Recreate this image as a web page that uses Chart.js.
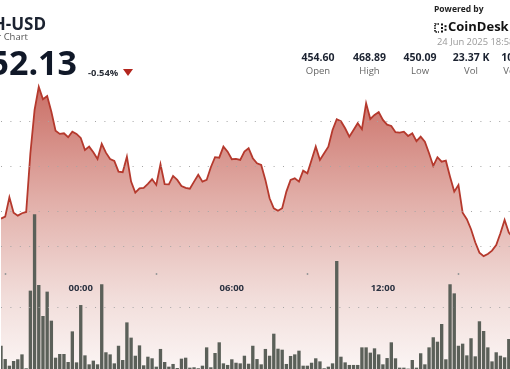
<!DOCTYPE html>
<html>
<head>
<meta charset="utf-8">
<script src="https://cdn.jsdelivr.net/npm/chart.js@4.4.1/dist/chart.umd.min.js"></script>
<style>
html, body { margin: 0; padding: 0; width: 510px; height: 369px; overflow: hidden; background: #fff; font-family: "Open Sans", sans-serif; }
#wrap { position: absolute; left: 1px; top: 0; width: 512px; height: 369px; }
.t { position: absolute; white-space: nowrap; line-height: 1; }
.stat { position: absolute; width: 60px; text-align: center; line-height: 1; white-space: nowrap; }
.stat .v { font-size: 10.5px; font-weight: 700; color: #1b2230; }
.stat .l { font-size: 9.5px; color: #666; margin-top: 3.8px; }
</style>
</head>
<body>
<div id="wrap"><canvas id="priceChart"></canvas></div>

<div class="t" style="right:464px; top:15px; font-size:17px; font-weight:700; color:#1b2230;">ETH-USD</div>
<div class="t" style="right:482px; top:32px; font-size:9.5px; color:#555;">24 Hour Chart</div>
<div class="t" style="right:433px; top:44.8px; font-size:34px; font-weight:700; color:#101828;">452.13</div>
<div class="t" style="left:88px; top:67.7px; font-size:9.4px; font-weight:700; color:#2a2f38;">-0.54%</div>
<div style="position:absolute; left:123px; top:69px; width:0; height:0; border-left:5px solid transparent; border-right:5px solid transparent; border-top:7px solid #b3261e;"></div>

<div class="stat" style="left:288px; top:52.2px;"><div class="v">454.60</div><div class="l">Open</div></div>
<div class="stat" style="left:339.5px; top:52.2px;"><div class="v">468.89</div><div class="l">High</div></div>
<div class="stat" style="left:390px; top:52.2px;"><div class="v">450.09</div><div class="l">Low</div></div>
<div class="stat" style="left:441px; top:52.2px;"><div class="v">23.37 K</div><div class="l">Vol</div></div>
<div class="stat" style="left:491px; top:52.2px;"><div class="v">10.72 M</div><div class="l">Vol USD</div></div>

<div class="t" style="left:434px; top:4.5px; font-size:8.5px; font-weight:700; color:#222;">Powered by</div>
<svg style="position:absolute; left:434px; top:22.5px;" width="14" height="10" viewBox="0 0 14 10">
  <path d="M5 1 H1 V9 H5" fill="none" stroke="#111" stroke-width="1.6" stroke-dasharray="1.6 0.9"/>
  <rect x="7" y="0.5" width="2" height="2" fill="#111"/>
  <rect x="7" y="4" width="2" height="2" fill="#111"/>
  <rect x="7" y="7.5" width="2" height="2" fill="#111"/>
  <rect x="10.5" y="2.2" width="2" height="2" fill="#111"/>
  <rect x="10.5" y="5.8" width="2" height="2" fill="#111"/>
</svg>
<div class="t" style="left:448px; top:20px; font-size:13px; font-weight:700; color:#111;">CoinDesk</div>
<div class="t" style="left:437px; top:36.7px; font-size:9.4px; color:#999;">24 Jun 2025 18:58</div>

<script>
// 10 minute steps, first point 20:50 the day before
const startMinutes = 20 * 60 + 50;
const stepMinutes = 10;

const shownTimes = ['00:00', '06:00', '12:00'];
const priceGridValues = [455, 460, 465];
const volumeGridValues = [500, 1000];

const prices = [
    454.26, 454.48, 456.63, 454.92, 454.59, 454.86, 455.00, 461.52, 466.33, 468.89,
    467.52, 467.89, 466.14, 464.03, 463.67, 463.74, 463.30, 463.92, 463.67, 463.22,
    461.89, 462.26, 461.63, 460.89, 462.56, 461.59, 460.89, 460.67, 459.48, 459.41,
    461.14, 458.37, 457.14, 457.63, 457.67, 458.11, 458.63, 458.00, 460.30, 458.08,
    458.06, 459.00, 458.56, 457.89, 457.67, 457.59, 458.37, 459.14, 458.37, 458.56,
    459.97, 461.08, 461.03, 462.26, 461.70, 460.86, 460.89, 460.78, 461.70, 462.08,
    460.97, 460.41, 460.22, 458.56, 456.52, 455.41, 455.14, 455.41, 457.26, 458.56,
    458.74, 458.37, 459.59, 459.30, 460.78, 462.26, 460.78, 461.52, 462.26, 464.11,
    465.30, 465.08, 464.30, 463.37, 464.11, 464.86, 464.19, 467.08, 465.33, 465.78,
    466.11, 465.22, 464.70, 464.56, 463.86, 463.81, 463.92, 463.44, 463.74, 462.86,
    463.37, 462.81, 461.52, 460.11, 461.08, 460.59, 460.70, 458.92, 457.26, 458.00,
    454.92, 454.19, 453.08, 451.63, 450.48, 450.09, 450.33, 450.70, 451.33, 452.63,
    454.11, 452.70, 452.13
];

const volumes = [
    189, 81, 27, 65, 79, 119, 6, 637, 1258, 683,
    431, 629, 393, 92, 122, 122, 57, 306, 54, 520,
    111, 38, 68, 38, 689, 136, 119, 46, 189, 73,
    379, 255, 108, 192, 30, 100, 87, 19, 163, 57,
    19, 41, 8, 84, 92, 11, 14, 6, 27, 176,
    14, 130, 217, 46, 33, 79, 51, 46, 108, 43,
    189, 81, 38, 163, 108, 287, 165, 157, 41, 106,
    119, 149, 27, 27, 51, 87, 62, 6, 19, 46,
    878, 100, 54, 33, 33, 33, 176, 176, 133, 168,
    119, 38, 89, 217, 87, 11, 11, 3, 73, 11,
    128, 38, 176, 258, 222, 366, 79, 689, 615, 189,
    206, 111, 250, 103, 388, 309, 176, 62, 136, 108,
    95, 244, 398
];

function timeLabel(i) {
    var m = (startMinutes + i * stepMinutes) % (24 * 60);
    var h = Math.floor(m / 60);
    var mm = m % 60;
    return String(h).padStart(2, '0') + ':' + String(mm).padStart(2, '0');
}

const labels = prices.map((p, i) => timeLabel(i));

function areaGradient(context) {
    const chart = context.chart;
    const area = chart.chartArea;
    if (!area) {
        return 'rgba(220,150,140,0.6)';
    }
    const g = chart.ctx.createLinearGradient(0, area.top, 0, area.bottom);
    g.addColorStop(0.00, 'rgb(194, 92, 82)');
    g.addColorStop(0.22, 'rgb(201, 108, 99)');
    g.addColorStop(0.55, 'rgb(226, 176, 170)');
    g.addColorStop(0.80, 'rgb(241, 220, 217)');
    g.addColorStop(1.00, 'rgb(251, 245, 244)');
    return g;
}

const ctx = document.getElementById('priceChart');

new Chart(ctx, {
    data: {
        labels: labels,
        datasets: [{
            type: 'line',
            label: 'Price',
            data: prices,
            yAxisID: 'y',
            borderColor: '#b5392d',
            borderWidth: 1.8,
            pointRadius: 0,
            tension: 0,
            fill: 'start',
            backgroundColor: areaGradient,
            order: 1
        }, {
            type: 'bar',
            label: 'Volume',
            data: volumes,
            yAxisID: 'vol',
            backgroundColor: '#5b6059',
            borderWidth: 0,
            barPercentage: 0.8,
            categoryPercentage: 1,
            order: 0
        }]
    },
    options: {
        responsive: true,
        maintainAspectRatio: false,
        animation: false,
        layout: { padding: 0, autoPadding: false },
        plugins: {
            legend: { display: false },
            tooltip: { enabled: false }
        },
        scales: {
            x: {
                type: 'category',
                offset: false,
                position: { y: 448.22 },
                grid: {
                    display: true,
                    z: 2,
                    drawOnChartArea: false,
                    drawTicks: true,
                    tickLength: 2,
                    tickWidth: 1.5,
                    tickColor: '#9a9a9a'
                },
                border: { display: false },
                ticks: {
                    z: 2,
                    autoSkip: false,
                    maxRotation: 0,
                    padding: 8,
                    color: '#2a3140',
                    font: { family: 'Open Sans', size: 9.5, weight: 'bold' },
                    callback: function(value, index) {
                        var lab = this.getLabelForValue(value);
                        return shownTimes.includes(lab) ? lab : null;
                    }
                }
            },
            y: {
                position: 'left',
                min: 437.55,
                max: 478.55,
                afterBuildTicks: function(scale) {
                    scale.ticks = priceGridValues.map(v => ({ value: v }));
                },
                grid: { z: 1, color: '#a5a5a5', lineWidth: 1, drawTicks: false },
                border: { display: false, dash: [1, 8.4] },
                ticks: { display: false }
            },
            vol: {
                position: 'right',
                min: 0,
                max: 3000,
                afterBuildTicks: function(scale) {
                    scale.ticks = volumeGridValues.map(v => ({ value: v }));
                },
                grid: { z: 1, color: '#a5a5a5', lineWidth: 1, drawTicks: false },
                border: { display: false, dash: [1, 8.4] },
                ticks: { display: false }
            }
        }
    }
});
</script>
</body>
</html>
